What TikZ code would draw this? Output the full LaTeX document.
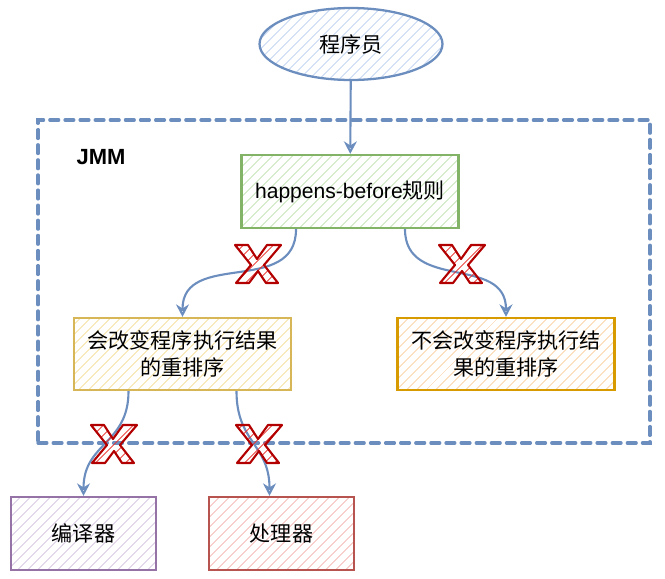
\documentclass[tikz,border=0pt]{standalone}
\usepackage{fontspec}
\setmainfont{Liberation Sans}
\newfontfamily\cjk{Noto Sans CJK SC}
\usetikzlibrary{arrows.meta,positioning,shapes.geometric,patterns.meta}
\definecolor{Steel}{HTML}{6C8EBF}
\definecolor{SteelHatch}{HTML}{BFD3F0}
\definecolor{Leaf}{HTML}{82B366}
\definecolor{LeafHatch}{HTML}{C2E2B2}
\definecolor{Sand}{HTML}{D6B656}
\definecolor{SandHatch}{HTML}{F5DF98}
\definecolor{Amber}{HTML}{D79B00}
\definecolor{AmberHatch}{HTML}{F9CFA0}
\definecolor{Plum}{HTML}{9673A6}
\definecolor{PlumHatch}{HTML}{D6C4E0}
\definecolor{Brick}{HTML}{B85450}
\definecolor{BrickHatch}{HTML}{F3B6B2}
\definecolor{Alarm}{HTML}{B20000}
\definecolor{AlarmHatch}{HTML}{E8302B}

\tikzset{
  hatch/.style={pattern={Lines[angle=45,distance=4pt,line width=0.55pt]},pattern color=#1},
  xmark/.pic={
    \draw[draw=Alarm,line width=1.2pt,line join=round,hatch=AlarmHatch]
      (-23,-19) -- (-10,-19) -- (-1,-5) -- (9,-19) -- (23,-19) -- (6,1)
      -- (20,19) -- (8,19) -- (0,7) -- (-9,19) -- (-22,19) -- (-7,1) -- cycle;
  }
}

\begin{document}
\begin{tikzpicture}[x=0.02cm,y=-0.02cm,
  termnode/.style={ellipse,draw=Steel,line width=1.3pt,hatch=SteelHatch,inner sep=0pt,minimum width=3.66cm,minimum height=1.44cm,font=\fontsize{12}{15}\selectfont},
  rulebox/.style={rectangle,draw=Leaf,line width=1.3pt,hatch=LeafHatch,minimum width=4.34cm,minimum height=1.46cm,font=\fontsize{12}{15}\selectfont},
  reorderbox/.style={rectangle,line width=1.3pt,align=center,minimum width=4.34cm,minimum height=1.44cm,font=\fontsize{12}{15}\cjk},
  targetbox/.style={rectangle,line width=1.3pt,minimum width=2.9cm,minimum height=1.46cm,font=\fontsize{12}{15}\cjk},
  jmmframe/.style={rectangle,draw=Steel,line width=1.9pt,dash pattern=on 5pt off 3.6pt,line cap=round,minimum width=12.24cm,minimum height=6.46cm},
  flow/.style={-{Stealth[open,length=2.5mm,width=2.6mm]},line width=1.2pt,draw=Steel}]
  \useasboundingbox (0,0) rectangle (665,578);

  \node[jmmframe] (jmm) at (344,281.5) {};
  \node[font=\fontsize{12.5}{15}\selectfont\bfseries] (jmmlabel) at (101,157) {JMM};

  \node[termnode] (coder) at (351,44) {\cjk 程序员};
  \node[rulebox] (hb) at (350,191.5) {happens-before{\cjk 规则}};

  \node[reorderbox,draw=Sand,hatch=SandHatch] (change) at (182.5,354) {会改变程序执行结果\\的重排序};
  \node[reorderbox,draw=Amber,hatch=AmberHatch] (keep) at (506,354) {不会改变程序执行结\\果的重排序};

  \node[targetbox,draw=Plum,hatch=PlumHatch] (compiler) at (83.5,533.5) {编译器};
  \node[targetbox,draw=Brick,hatch=BrickHatch] (cpu) at (281.5,533.5) {处理器};

  \draw[flow] (coder) -- (hb);
  \draw[flow] ([xshift=-1.08cm]hb.south) to[out=-90,in=90,looseness=1.2] (change.north);
  \draw[flow] ([xshift=1.1cm]hb.south) to[out=-90,in=90,looseness=1.2] (keep.north);
  \draw[flow] ([xshift=-1.08cm]change.south) to[out=-90,in=90,looseness=1.2] (compiler.north);
  \draw[flow] ([xshift=1.08cm]change.south) to[out=-90,in=90,looseness=1.2] ([xshift=-0.24cm]cpu.north);

  % blocked reorderings
  \pic at (258,264) {xmark};
  \pic at (462,264) {xmark};
  \pic at (114,444) {xmark};
  \pic at (259,444) {xmark};
\end{tikzpicture}
\end{document}
